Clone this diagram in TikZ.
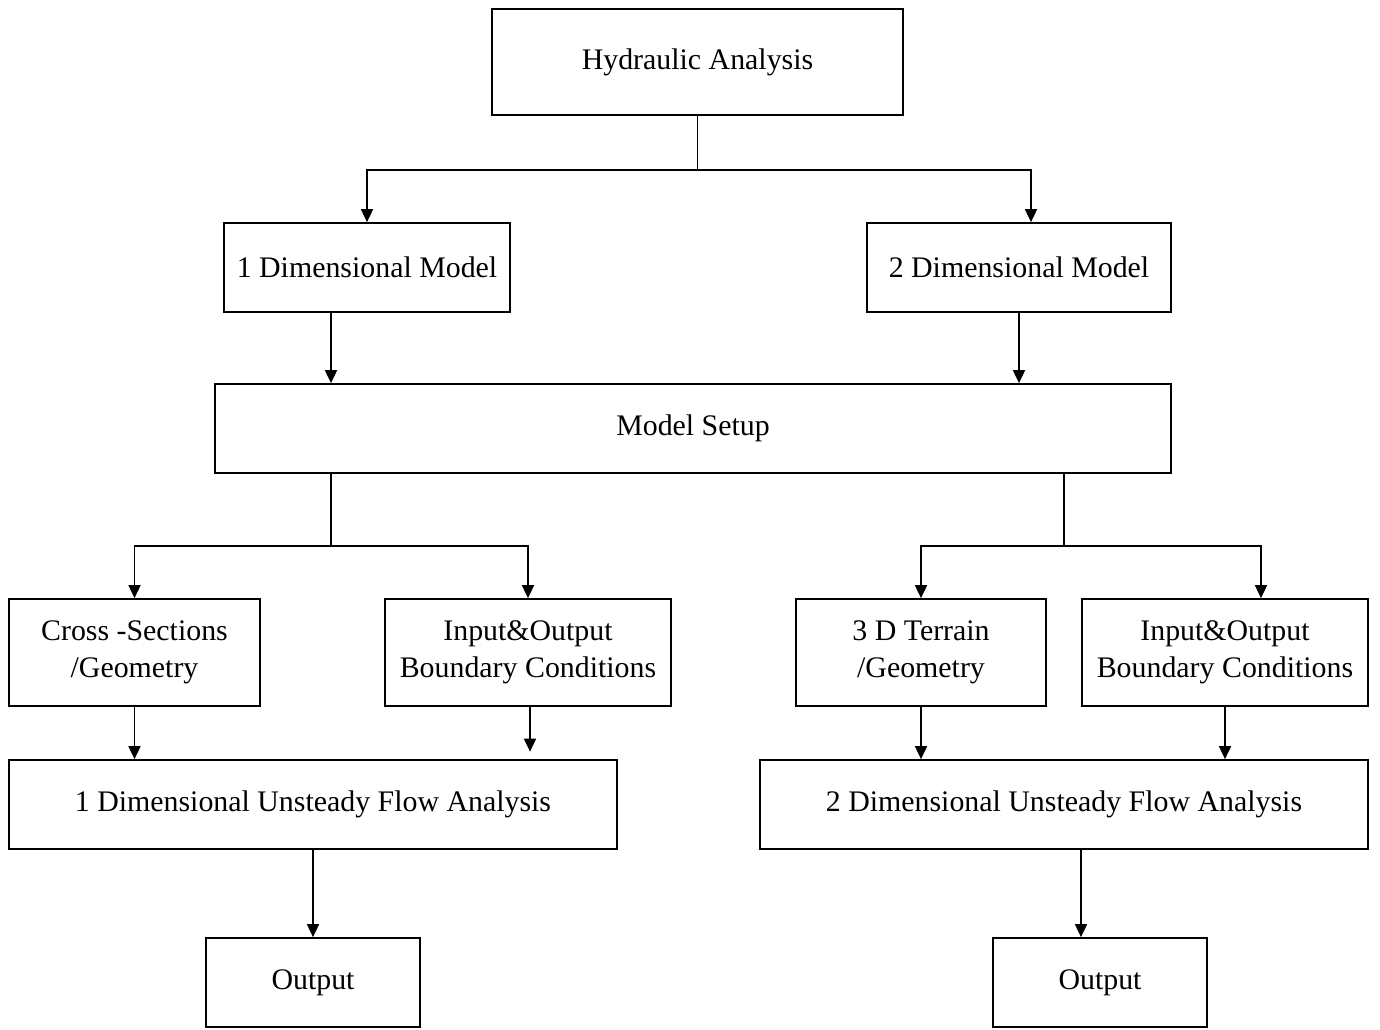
\documentclass[tikz,border=0pt]{standalone}
\usepackage{fontspec}
\setmainfont{Liberation Serif}
\usetikzlibrary{arrows.meta}

\begin{document}
\begin{tikzpicture}[
  x=0.02cm, y=-0.02cm,
  box/.style={draw, line width=1pt, align=center, inner sep=2pt,
              minimum height=1.78cm, font=\fontsize{17}{21}\selectfont},
  tall/.style={box, minimum height=2.14cm},
  arr/.style={-{Triangle[length=2.6mm, width=2.4mm]}, line width=1pt},
  line/.style={line width=1pt}
]
\useasboundingbox (0,0) rectangle (1380,1029);
% top level
\node[box, minimum width=8.22cm, minimum height=2.12cm] (hyd) at (697.5,62) {Hydraulic Analysis};
\node[box, minimum width=5.72cm] (m1) at (367,267.5) {1 Dimensional Model};
\node[box, minimum width=6.08cm] (m2) at (1019,267.5) {2 Dimensional Model};
\node[box, minimum width=19.12cm] (setup) at (693,428.5) {Model Setup};
% inputs
\node[tall, minimum width=5.02cm] (cross) at (134.5,652.5) {Cross -Sections\\/Geometry};
\node[tall, minimum width=5.72cm] (in1) at (528,652.5) {Input\&Output\\Boundary Conditions};
\node[tall, minimum width=5.0cm] (terr) at (921,652.5) {3 D Terrain\\/Geometry};
\node[tall, minimum width=5.72cm] (in2) at (1225,652.5) {Input\&Output\\Boundary Conditions};
% analysis and output
\node[box, minimum width=12.16cm] (u1) at (313,804.5) {1 Dimensional Unsteady Flow Analysis};
\node[box, minimum width=12.16cm] (u2) at (1064,804.5) {2 Dimensional Unsteady Flow Analysis};
\node[box, minimum width=4.28cm] (out1) at (313,982.5) {Output};
\node[box, minimum width=4.28cm] (out2) at (1100,982.5) {Output};

\draw[arr] (hyd.south) -- ++(0,54) -| (m1.north);
\draw[arr] (hyd.south) -- ++(0,54) -| ([xshift=0.24cm]m2.north);
\draw[arr] ([xshift=-0.72cm]m1.south) -- ([xshift=-0.72cm]m1.south |- setup.north);
\draw[arr] (m2.south) -- (m2.south |- setup.north);
% branches below setup
\draw[arr] ([xshift=-7.24cm]setup.south) -- ++(0,72) -| (cross.north);
\draw[arr] ([xshift=-7.24cm]setup.south) -- ++(0,72) -| (in1.north);
\draw[arr] ([xshift=7.42cm]setup.south) -- ++(0,72) -| (terr.north);
\draw[arr] ([xshift=7.42cm]setup.south) -- ++(0,72) -| ([xshift=0.72cm]in2.north);
\draw[arr] (cross.south) -- (cross.south |- u1.north);
\draw[arr, shorten >=0.15cm] ([xshift=0.04cm]in1.south) -- ([xshift=0.04cm]in1.south |- u1.north);
\draw[arr] (terr.south) -- (terr.south |- u2.north);
\draw[arr] (in2.south) -- (in2.south |- u2.north);
\draw[arr] (u1.south) -- (out1.north);
\draw[arr] ([xshift=0.34cm]u2.south) -- ([xshift=0.34cm]u2.south |- out2.north);
\end{tikzpicture}
\end{document}
